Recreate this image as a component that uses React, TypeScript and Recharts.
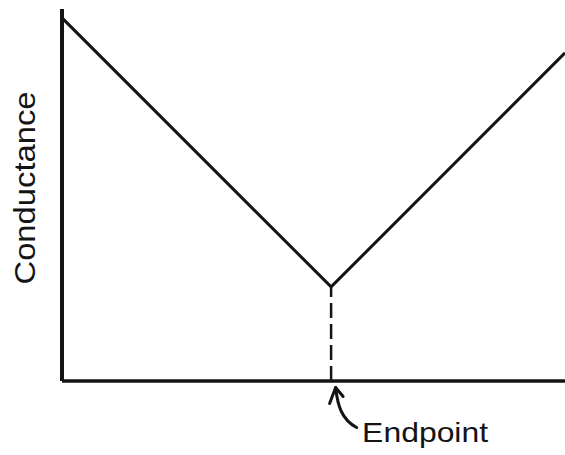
import React from 'react';
import { LineChart, Line, XAxis, YAxis, ReferenceLine } from 'recharts';

// Titration volume (arbitrary units) and conductance (arbitrary units)
const volume = [0, 53.5, 100];
const conductance = [97.6, 25.3, 88.2];
const endpointVolume = 53.5;
const endpointConductance = 25.3;
const yAxisLabel = 'Conductance';
const endpointLabel = 'Endpoint';

const data = volume.map((v, i) => ({ v, c: conductance[i] }));

const INK = '#141414';
const FONT = '"Liberation Sans", Arial, Helvetica, sans-serif';

const EndpointMarker = (props: any) => {
  const vb = props.viewBox || {};
  const x = vb.x;
  const bottom = vb.y + vb.height;
  const tipX = x + 4.5;
  const tipY = bottom + 6.5;
  return (
    <g>
      <path
        d={`M ${tipX} ${tipY} C ${tipX + 2} ${tipY + 18}, ${tipX + 6} ${tipY + 32}, ${tipX + 21} ${tipY + 40}`}
        fill="none"
        stroke={INK}
        strokeWidth={3}
        strokeLinecap="round"
      />
      <path
        d={`M ${tipX - 6} ${tipY + 16} L ${tipX} ${tipY} L ${tipX + 7.5} ${tipY + 9}`}
        fill="none"
        stroke={INK}
        strokeWidth={3}
        strokeLinecap="round"
        strokeLinejoin="round"
      />
      <text
        x={x + 31}
        y={bottom + 61}
        fontFamily={FONT}
        fontSize={28}
        fill={INK}
        textLength={126}
        lengthAdjust="spacingAndGlyphs"
      >
        {endpointLabel}
      </text>
    </g>
  );
};

const YLabel = (props: any) => {
  const vb = props.viewBox || {};
  const cx = vb.x + vb.width - 27;
  const cy = vb.y + vb.height / 2 - 7;
  return (
    <text
      x={cx}
      y={cy}
      transform={`rotate(-90, ${cx}, ${cy})`}
      textAnchor="middle"
      fontFamily={FONT}
      fontSize={29}
      fill={INK}
      textLength={193}
      lengthAdjust="spacingAndGlyphs"
    >
      {yAxisLabel}
    </text>
  );
};

export default function App() {
  return (
    <div style={{ position: 'absolute', left: 0, top: 0, width: 565, height: 455, background: '#fff' }}>
      <LineChart width={565} height={455} data={data} margin={{ top: 9, right: 0, left: 0, bottom: 0 }}>
        <XAxis
          dataKey="v"
          type="number"
          domain={[0, 100]}
          tick={false}
          tickLine={false}
          height={74}
          axisLine={{ stroke: INK, strokeWidth: 3.5 }}
        />
        <YAxis
          type="number"
          domain={[0, 100]}
          tick={false}
          tickLine={false}
          width={62}
          axisLine={{ stroke: INK, strokeWidth: 4 }}
          label={(p: any) => <YLabel {...p} />}
        />
        <ReferenceLine
          segment={[
            { x: endpointVolume, y: 0 },
            { x: endpointVolume, y: endpointConductance },
          ]}
          stroke={INK}
          strokeWidth={2.5}
          strokeDasharray="15 6"
          label={(p: any) => <EndpointMarker {...p} />}
        />
        <Line
          dataKey="c"
          type="linear"
          stroke={INK}
          strokeWidth={3}
          dot={false}
          activeDot={false}
          isAnimationActive={false}
        />
      </LineChart>
    </div>
  );
}
